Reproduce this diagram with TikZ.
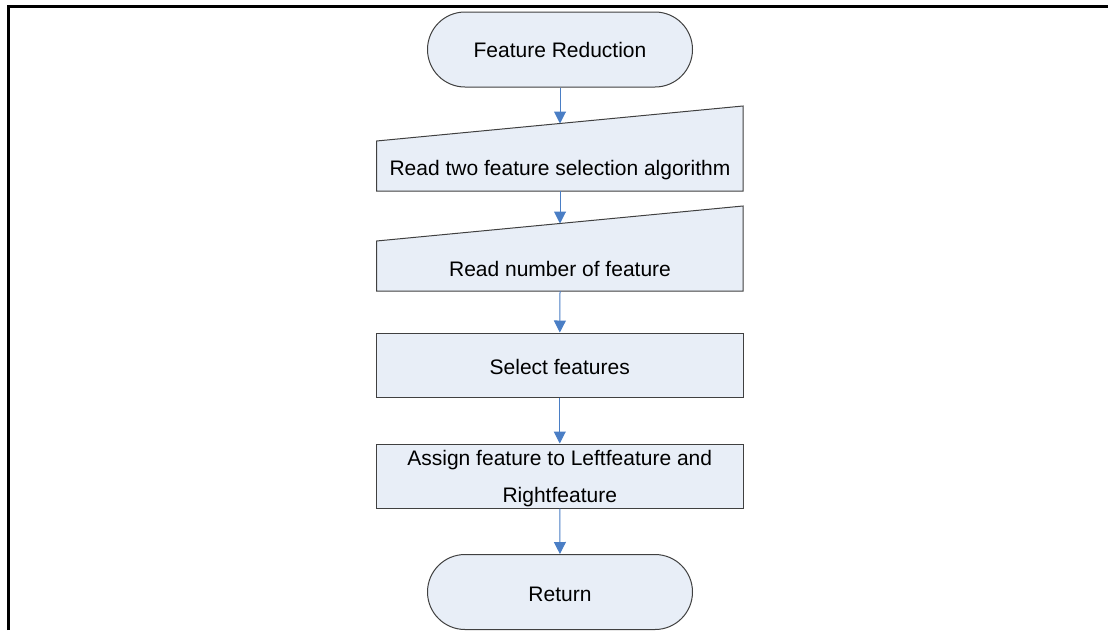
\documentclass[tikz,border=0pt]{standalone}
\usepackage{fontspec}
\setmainfont{Liberation Sans}
\usetikzlibrary{arrows.meta}
\definecolor{boxfill}{RGB}{232,238,247}
\definecolor{boxline}{RGB}{64,64,64}
\definecolor{flowblue}{RGB}{74,126,197}

\begin{document}
\begin{tikzpicture}[x=1pt,y=-1pt,
  font=\fontsize{21}{36.6}\selectfont,
  term/.style={draw=boxline,fill=boxfill,line width=1pt,rounded corners=37.5pt,
    minimum width=265pt,minimum height=75pt,text height=19pt,text depth=0pt},
  proc/.style={draw=boxline,fill=boxfill,line width=1pt,
    minimum width=367pt,minimum height=64pt,align=center,text height=19pt,text depth=0pt},
  intext/.style={inner sep=0pt},
  flow/.style={-{Triangle[length=12pt,width=12pt]},flowblue,line width=1pt}]
 \useasboundingbox (0,0) rectangle (1108,630);
 % frame
 \draw [line width=3pt] (8,630) -- (8,6) -- (1108,6);
 % manual input shapes
 \filldraw [boxline,fill=boxfill,line width=1pt] (376.5,191) -- (376.5,141) -- (743,106) -- (743,191) -- cycle;
 \filldraw [boxline,fill=boxfill,line width=1pt] (376.5,291) -- (376.5,241) -- (743,206) -- (743,291) -- cycle;
 \coordinate (I1top) at (560,123.5);
 \coordinate (I2top) at (560,223.5);
 \coordinate (I1bot) at (560,191);
 \coordinate (I2bot) at (560,291);
 \node [term,text height=16.5pt] (T1) at (560,49.5) {Feature Reduction};
 \node [intext] (I1) at (560,170.5) {Read two feature selection algorithm};
 \node [intext] (I2) at (560,268.5) {Read number of feature};
 \node [proc] (P1) at (559.75,365) {Select features};
 \node [proc,text height=52.6pt,text depth=0pt] (P2) at (559.75,476) {Assign feature to Leftfeature and\\Rightfeature};
 \node [term] (T2) at (560,592) {Return};
 \draw [flow] (T1) -- (I1top);
 \draw [flow] (I1bot) -- (I2top);
 \draw [flow] (I2bot) -- (P1);
 \draw [flow] (P1) -- (P2);
 \draw [flow] (P2) -- (T2);
\end{tikzpicture}
\end{document}
